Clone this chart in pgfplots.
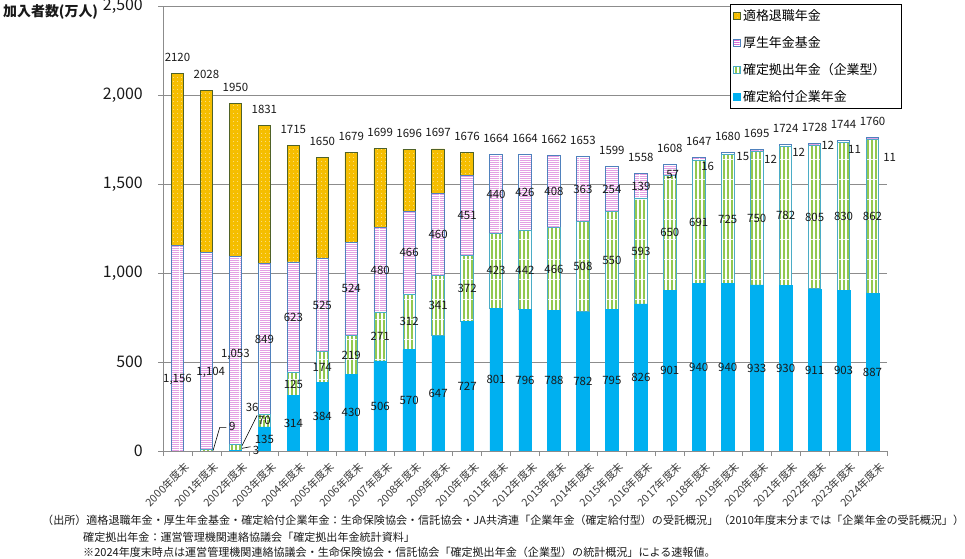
\documentclass[border=0pt]{standalone}
\usepackage{fontspec}
\setmainfont{Noto Sans CJK JP}
\usepackage{pgfplots}
\pgfplotsset{compat=1.18}
\usepackage{pgfplotstable}
\usetikzlibrary{patterns}

\definecolor{goldc}{RGB}{245,190,0}
\definecolor{goldedge}{RGB}{79,98,40}
\definecolor{pinkc}{RGB}{214,110,214}
\definecolor{pinkedge}{RGB}{79,129,189}
\definecolor{greenc}{RGB}{146,200,80}
\definecolor{greenedge}{RGB}{75,172,198}
\definecolor{bluec}{RGB}{0,176,240}
\definecolor{gridc}{RGB}{140,140,140}
\definecolor{textc}{RGB}{25,25,25}

\pgfdeclarepatternformonly{vstripes}{\pgfpointorigin}{\pgfqpoint{3.5bp}{20bp}}{\pgfqpoint{3.5bp}{20bp}}%
  {\pgfpathrectangle{\pgfpointorigin}{\pgfqpoint{2.2bp}{20bp}}\pgfusepath{fill}}
\pgfdeclarepatternformonly{hstripes}{\pgfpointorigin}{\pgfqpoint{20bp}{2bp}}{\pgfqpoint{20bp}{2bp}}%
  {\pgfpathrectangle{\pgfpointorigin}{\pgfqpoint{20bp}{1bp}}\pgfusepath{fill}}
\pgfdeclarepatternformonly{sdots}{\pgfpointorigin}{\pgfqpoint{4bp}{4bp}}{\pgfqpoint{4bp}{4bp}}%
  {\pgfpathcircle{\pgfqpoint{2bp}{2bp}}{0.5bp}\pgfusepath{fill}}

\pgfplotstableread{
x DB DC K Q
0 0 0 1156 964
1 0 9 1104 915
2 3 36 1053 858
3 135 70 849 777
4 314 125 623 653
5 384 174 525 567
6 430 219 524 506
7 506 271 480 442
8 570 312 466 348
9 647 341 460 249
10 727 372 451 126
11 801 423 440 nan
12 796 442 426 nan
13 788 466 408 nan
14 782 508 363 nan
15 795 550 254 nan
16 826 593 139 nan
17 901 650 57 nan
18 940 691 16 nan
19 940 725 15 nan
20 933 750 12 nan
21 930 782 12 nan
22 911 805 12 nan
23 903 830 11 nan
24 887 862 11 nan
}\data

% total labels (value, placed above bar)
\pgfplotstableread{
x y lab
0 2210 2120
1 2118 2028
2 2040 1950
3 1921 1831
4 1805 1715
5 1740 1650
6 1769 1679
7 1789 1699
8 1786 1696
9 1787 1697
10 1766 1676
11 1754 1664
12 1754 1664
13 1752 1662
14 1743 1653
15 1689 1599
16 1648 1558
17 1698 1608
18 1737 1647
19 1770 1680
20 1785 1695
21 1814 1724
22 1818 1728
23 1834 1744
24 1850 1760
}\totlab

% segment labels
\pgfplotstableread{
x y lab
3 67.5 135
4 157 314
5 192 384
6 215 430
7 253 506
8 285 570
9 323.5 647
10 363.5 727
11 400.5 801
12 398 796
13 394 788
14 391 782
15 397.5 795
16 413 826
17 450.5 901
18 470 940
19 470 940
20 466.5 933
21 465 930
22 455.5 911
23 451.5 903
24 443.5 887
1.89 137 9
2.58 247 36
2.71 4 3
3 170 70
4 376.5 125
5 471 174
6 539.5 219
7 641.5 271
8 726 312
9 817.5 341
10 913 372
11 1012.5 423
12 1017 442
13 1021 466
14 1036 508
15 1070 550
16 1122.5 593
17 1226 650
18 1285.5 691
19 1302.5 725
20 1308 750
21 1321 782
22 1313.5 805
23 1318 830
24 1318 862
0 400 1,156
1.15 444 1,104
2 545 1,053
3 629.5 849
4 750.5 623
5 820.5 525
6 911 524
7 1017 480
8 1115 466
9 1218 460
10 1324.5 451
11 1444 440
12 1451 426
13 1458 408
14 1471.5 363
15 1472 254
16 1488.5 139
17.1 1551 57
18.31 1601 16
19.52 1652 15
20.48 1640 12
21.45 1680 12
22.45 1719 12
23.38 1697 11
24.59 1652 11
}\seglab

\pgfplotsset{
  labelplot/.style={only marks, mark=*, mark size=0pt,
    scatter/use mapped color={draw opacity=0, fill opacity=0},
    point meta=explicit symbolic, nodes near coords,
    nodes near coords style={anchor=center, inner sep=0pt, opacity=1, font=\fontsize{11.5}{11.5}\selectfont, text=textc}},
}

\begin{document}
\begin{tikzpicture}
\path[use as bounding box] (0,0) rectangle (965bp,559bp);
\begin{axis}[
  at={(163bp,108bp)}, anchor=south west,
  scale only axis, width=724bp, height=445bp,
  ybar stacked, bar width=12.5bp,
  xmin=-0.5, xmax=24.5, ymin=0, ymax=2500,
  enlargelimits=false,
  axis lines=left,
  axis line style={draw=gridc, line width=0.8bp, -},
  ymajorgrids, grid style={draw=gridc, line width=0.8bp},
  ytick={0,500,1000,1500,2000,2500},
  xtick={0,...,24},
  minor xtick={-0.5,0.5,...,24.5},
  xticklabels={2000年度末,2001年度末,2002年度末,2003年度末,2004年度末,2005年度末,2006年度末,2007年度末,2008年度末,2009年度末,2010年度末,2011年度末,2012年度末,2013年度末,2014年度末,2015年度末,2016年度末,2017年度末,2018年度末,2019年度末,2020年度末,2021年度末,2022年度末,2023年度末,2024年度末},
  tick align=outside,
  major tick length=5bp, minor tick length=5bp,
  major x tick style={draw=none},
  tick style={draw=gridc, line width=0.8bp},
  /pgf/number format/assume math mode=true,
  yticklabel style={anchor=east, inner sep=0pt, xshift=-15bp, font=\fontsize{16}{16}\selectfont, text=textc},
  xticklabel style={rotate=45, anchor=east, inner sep=0pt, yshift=-13bp, xshift=1bp, font=\fontsize{10.8}{10.8}\selectfont, text=textc!85!white},
  legend style={at={(0.783,1.0045)}, anchor=north west, draw=black, line width=0.8bp,
    font=\fontsize{13}{13}\selectfont, inner xsep=3bp, inner ysep=3.5bp, row sep=10.5bp,
    cells={anchor=west}},
  reverse legend,
  legend image code/.code={\draw[#1] (0bp,-3.5bp) rectangle (7bp,3.5bp);},
]
\addplot[fill=bluec, draw=bluec, line width=0.5bp] table[x=x,y=DB]{\data};
\addplot[fill=white, draw=greenedge, line width=0.8bp,
  postaction={pattern=vstripes, pattern color=greenc}] table[x=x,y=DC]{\data};
\addplot[fill=white, draw=pinkedge, line width=0.8bp,
  postaction={pattern=hstripes, pattern color=pinkc}] table[x=x,y=K]{\data};
\addplot[fill=goldc, draw=goldedge, line width=0.8bp,
  postaction={pattern=sdots, pattern color=white!85!goldc}] table[x=x,y=Q]{\data};
\legend{\makebox[153bp][l]{確定給付企業年金},確定拠出年金（企業型）,厚生年金基金,適格退職年金}
\end{axis}
\begin{axis}[
  at={(163bp,108bp)}, anchor=south west,
  scale only axis, width=724bp, height=445bp,
  xmin=-0.5, xmax=24.5, ymin=0, ymax=2500,
  hide axis, clip=false,
]
\addplot[labelplot] table[x=x,y=y,meta=lab]{\totlab};
\addplot[labelplot] table[x=x,y=y,meta=lab]{\seglab};
\addplot[black, line width=0.6bp, mark=none] coordinates {(1.23,3) (1.46,133) (1.69,133)};
\addplot[black, line width=0.6bp, mark=none] coordinates {(2.23,30) (2.75,200)};
\addplot[black, line width=0.6bp, mark=none] coordinates {(2.23,15) (2.52,24)};
\end{axis}
\node[anchor=west, inner sep=0pt, font=\bfseries\fontsize{14}{14}\selectfont, text=textc] at (3bp,547.5bp) {加入者数(万人)};
\node[anchor=west, inner sep=0pt, font=\fontsize{11.1}{12}\selectfont, text=textc] at (42bp,39bp) {（出所）適格退職年金・厚生年金基金・確定給付企業年金：生命保険協会・信託協会・JA共済連「企業年金（確定給付型）の受託概況」（2010年度末分までは「企業年金の受託概況」）};
\node[anchor=west, inner sep=0pt, font=\fontsize{11.1}{12}\selectfont, text=textc] at (83bp,22bp) {確定拠出年金：運営管理機関連絡協議会「確定拠出年金統計資料」};
\node[anchor=west, inner sep=0pt, font=\fontsize{11.1}{12}\selectfont, text=textc] at (83bp,7bp) {※2024年度末時点は運営管理機関連絡協議会・生命保険協会・信託協会「確定拠出年金（企業型）の統計概況」による速報値。};
\end{tikzpicture}
\end{document}
